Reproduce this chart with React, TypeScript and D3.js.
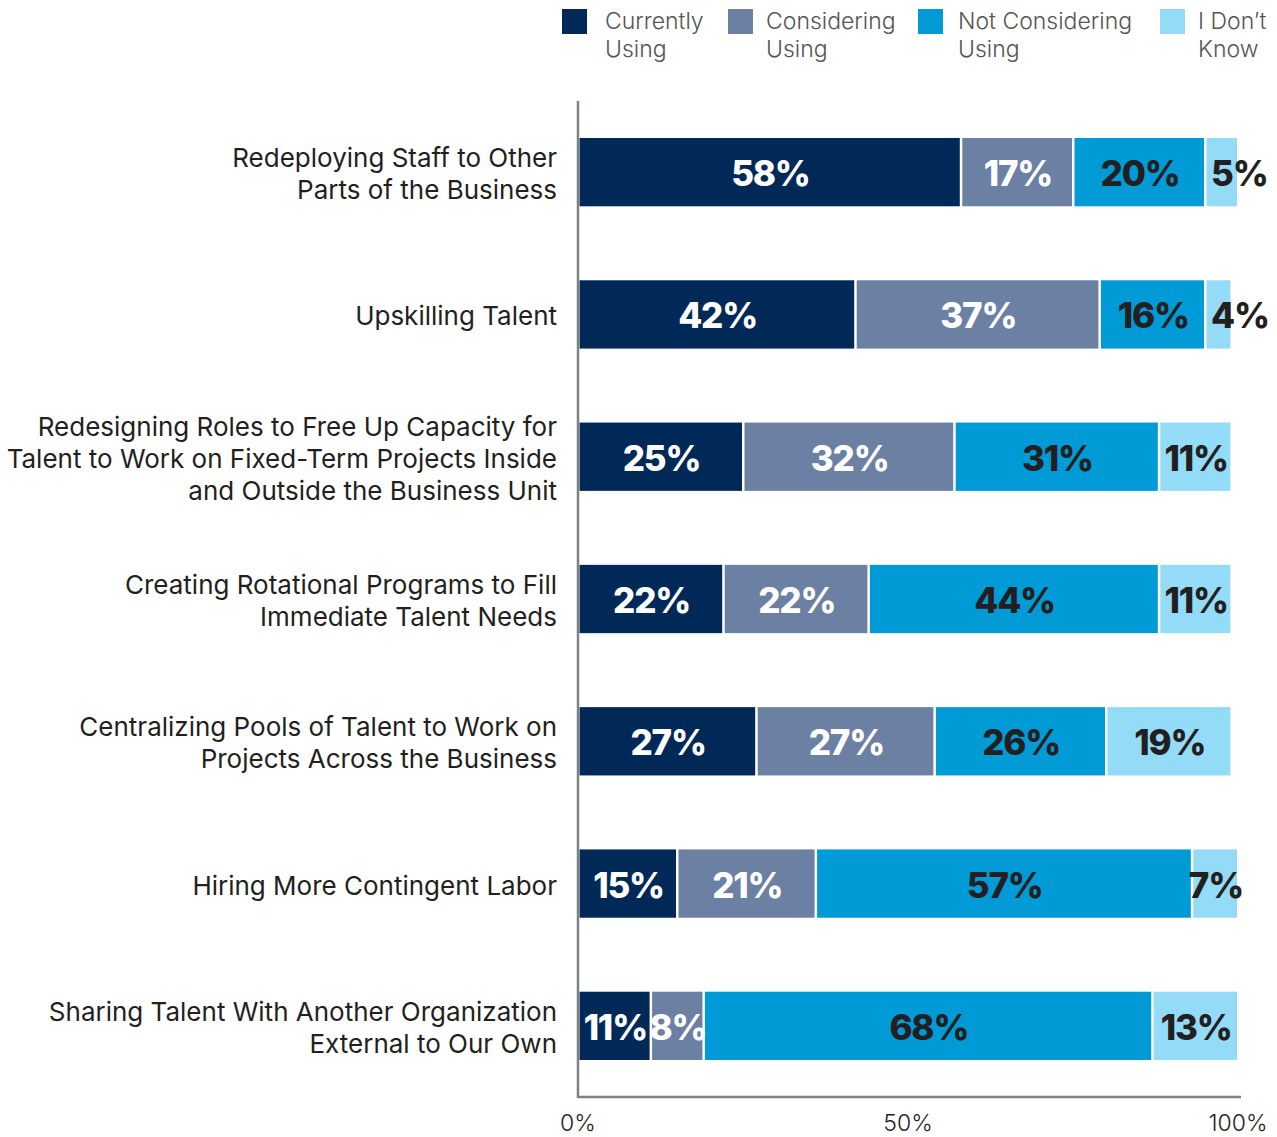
import React from "react";
import * as d3 from "d3";

const categories: string[][] = [
  ["Redeploying Staff to Other", "Parts of the Business"],
  ["Upskilling Talent"],
  ["Redesigning Roles to Free Up Capacity for", "Talent to Work on Fixed-Term Projects Inside", "and Outside the Business Unit"],
  ["Creating Rotational Programs to Fill", "Immediate Talent Needs"],
  ["Centralizing Pools of Talent to Work on", "Projects Across the Business"],
  ["Hiring More Contingent Labor"],
  ["Sharing Talent With Another Organization", "External to Our Own"],
];

const seriesNames: string[][] = [
  ["Currently", "Using"],
  ["Considering", "Using"],
  ["Not Considering", "Using"],
  ["I Don\u2019t", "Know"],
];

const currentlyUsing = [58, 42, 25, 22, 27, 15, 11];
const consideringUsing = [17, 37, 32, 22, 27, 21, 8];
const notConsidering = [20, 16, 31, 44, 26, 57, 68];
const dontKnow = [5, 4, 11, 11, 19, 7, 13];

const tickValues = [0, 50, 100];

const colors = ["#012957", "#6b80a3", "#009ad6", "#93dbf6"];
const textColors = ["#ffffff", "#ffffff", "#231f20", "#231f20"];

const W = 1277;
const H = 1137;

export default function App() {
  const series = [currentlyUsing, consideringUsing, notConsidering, dontKnow];
  const x = d3.scaleLinear().domain([0, 100]).range([578, 1238]);
  const y = d3
    .scaleBand<number>()
    .domain(d3.range(categories.length))
    .range([101, 1097])
    .paddingInner(0.52)
    .paddingOuter(0.26);

  const rows = categories.map((_, i) => {
    let acc = 0;
    return series.map((s, k) => {
      const v = s[i];
      const x0 = acc;
      acc += v;
      return { k, v, x0, x1: acc };
    });
  });

  const legendX = [562, 728, 918, 1160];
  const legendTextX = [605, 766, 958, 1198];
  const labelFont = "Inter, Roboto, 'Noto Sans', sans-serif";

  return (
    <svg width={W} height={H} style={{ position: "absolute", left: 0, top: 0 }}>
      <rect width={W} height={H} fill="#fff" />
      {/* legend */}
      {seriesNames.map((name, k) => (
        <g key={k}>
          <rect x={legendX[k]} y={9} width={25} height={25} fill={colors[k]} />
          <text x={legendTextX[k]} y={29} fontFamily={labelFont} fontWeight={300} fontSize={23} fill="#555">
            {name.map((ln, j) => (
              <tspan key={j} x={legendTextX[k]} dy={j === 0 ? 0 : 28}>
                {ln}
              </tspan>
            ))}
          </text>
        </g>
      ))}
      {/* bars */}
      {rows.map((segs, i) => {
        const y0 = y(i)!;
        const bh = y.bandwidth();
        return (
          <g key={i}>
            {segs.map((s) => (
              <rect
                key={s.k}
                x={x(s.x0) + 1.5}
                y={y0}
                width={Math.max(0, x(s.x1) - x(s.x0) - 2.5)}
                height={bh}
                fill={colors[s.k]}
              />
            ))}
            {segs.map((s) => {
              const sw = x(s.x1) - x(s.x0);
              const narrow = sw < 40;
              const tx = narrow ? x(s.x0) + 6 : (x(s.x0) + x(s.x1)) / 2 + 1;
              return (
                <text
                  key={"t" + s.k}
                  x={tx}
                  y={y0 + bh / 2 + 14}
                  textAnchor={narrow ? "start" : "middle"}
                  fontFamily={labelFont}
                  fontWeight={800}
                  fontSize={35}
                  letterSpacing={-1.2}
                  fill={textColors[s.k]}
                >
                  {s.v}%
                </text>
              );
            })}
            <text
              textAnchor="end"
              fontFamily={labelFont}
              fontSize={26}
              fill="#231f20"
              x={557}
              y={y0 + bh / 2 + 11 - ((categories[i].length - 1) * 32) / 2}
            >
              {categories[i].map((ln, j) => (
                <tspan key={j} x={557} dy={j === 0 ? 0 : 32}>
                  {ln}
                </tspan>
              ))}
            </text>
          </g>
        );
      })}
      {/* axes */}
      <line x1={578} x2={578} y1={101} y2={1098} stroke="#7d8382" strokeWidth={2.5} />
      <line x1={577} x2={x(100) + 3} y1={1097} y2={1097} stroke="#7d8382" strokeWidth={2.5} />
      {tickValues.map((t) => (
        <text
          key={t}
          x={x(t)}
          y={1131}
          textAnchor="middle"
          fontFamily={labelFont}
          fontWeight={300}
          fontSize={23}
          fill="#231f20"
        >
          {t}%
        </text>
      ))}
    </svg>
  );
}
